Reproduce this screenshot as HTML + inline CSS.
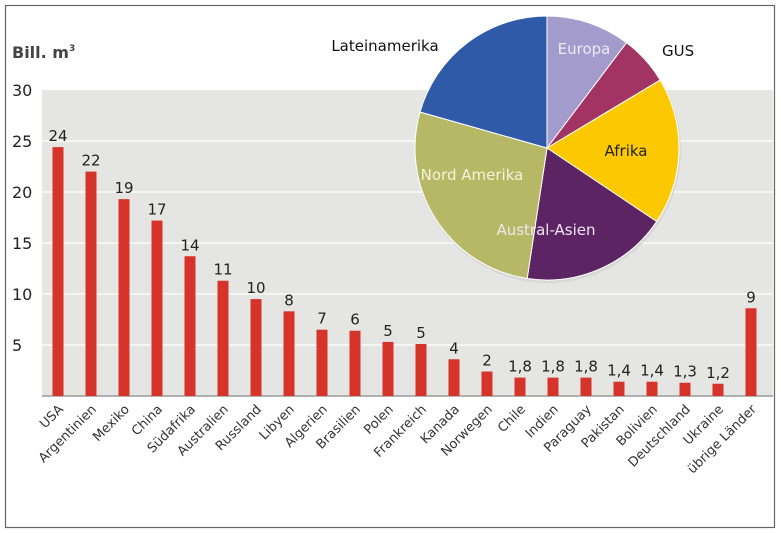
<!DOCTYPE html>
<html><head><meta charset="utf-8"><style>
body{margin:0;background:#fff;}
svg{display:block;font-family:"DejaVu Sans","Liberation Sans",sans-serif;}
</style></head><body>
<svg id="c" width="781" height="533">
<rect x="5.5" y="5.5" width="769" height="522" fill="#fff" stroke="#666" stroke-width="1.2"/>
<rect x="42" y="90" width="731" height="306" fill="#e5e5e3"/>
<g id="grid"></g><g id="bars"></g><g id="labels"></g>
<text x="12" y="58" font-size="16" font-weight="bold" fill="#444">Bill. m<tspan font-size="9" dy="-7">3</tspan></text>
<circle cx="548" cy="150" r="133" fill="#cfcfcf" opacity="0.6"/>
<g id="pie"></g>
</svg>
<script>
const categories=["USA","Argentinien","Mexiko","China","Südafrika","Australien","Russland","Libyen","Algerien","Brasilien","Polen","Frankreich","Kanada","Norwegen","Chile","Indien","Paraguay","Pakistan","Bolivien","Deutschland","Ukraine","übrige Länder"];
const values=[24.4,22,19.3,17.2,13.7,11.3,9.5,8.3,6.5,6.4,5.3,5.1,3.6,2.4,1.8,1.8,1.8,1.4,1.4,1.3,1.2,8.6];
const valueLabels=["24","22","19","17","14","11","10","8","7","6","5","5","4","2","1,8","1,8","1,8","1,4","1,4","1,3","1,2","9"];
const yTicks=[5,10,15,20,25,30];
const pieNames=["Europa","GUS","Afrika","Austral-Asien","Nord Amerika","Lateinamerika"];
const pieShares=[10.3,6.1,18,18,27,20.6];
const NS="http://www.w3.org/2000/svg";
function mk(t,a,p){const e=document.createElementNS(NS,t);for(const k in a)e.setAttribute(k,a[k]);p.appendChild(e);return e;}
const y0=396,sc=10.2;
const y=v=>y0-v*sc;
const x0=58;
const xs=i=>x0+i*((751-58)/(categories.length-1));
const G=document.getElementById('grid'),B=document.getElementById('bars'),L=document.getElementById('labels');
yTicks.forEach(t=>{
 if(t<30){const l=mk('line',{x1:42,x2:773,y1:y(t),y2:y(t),stroke:'#fff','stroke-width':1.2},G);
 
 }
 const tx=mk('text',{x:12,y:y(t)+6,'font-size':16,fill:'#222'},G);tx.textContent=t;
 
 
});
const bl=mk('line',{x1:42,x2:773,y1:y0,y2:y0,stroke:'#999','stroke-width':1.5},G);


categories.forEach((c,i)=>{
 const cx=xs(i);
 const r=mk('rect',{x:cx-5.5,y:y(values[i]),width:11,height:values[i]*sc,fill:'#d6332a'},B);
 
 
 const v=mk('text',{x:cx,y:y(values[i])-6,'font-size':15,fill:'#222','text-anchor':'middle'},L);v.textContent=valueLabels[i];
 
 
 const t=mk('text',{x:cx+6,y:410,'font-size':13,fill:'#333','text-anchor':'end',transform:`rotate(-45 ${cx+6} 410)`},L);t.textContent=c;
 
 
});
const pieColors=["#a39bcc","#a13463","#fcc800","#5d2464","#b7b866","#2e5aa7"];
const P=document.getElementById('pie'),pcx=547,pcy=148,pr=132;
const tot=pieShares.reduce((a,b)=>a+b,0);
let a0=0;
pieShares.forEach((s,i)=>{
 const a1=a0+s/tot*2*Math.PI;
 const p=(a)=>[pcx+pr*Math.sin(a),pcy-pr*Math.cos(a)];
 const [sx,sy]=p(a0),[ex,ey]=p(a1);
 const pa=mk('path',{d:`M${pcx},${pcy}L${sx},${sy}A${pr},${pr} 0 ${a1-a0>Math.PI?1:0} 1 ${ex},${ey}Z`,fill:pieColors[i],stroke:'#fff','stroke-width':1},P);
 
 
 a0=a1;
});
const lab=[[584,54,"Europa","#eeeaf8","middle"],[662,56,"GUS","#111","start"],[626,156,"Afrika","#222","middle"],[546,235,"Austral-Asien","#f0e6f0","middle"],[472,180,"Nord Amerika","#f4f4dc","middle"],[385,51,"Lateinamerika","#111","middle"]];
lab.forEach(l=>{const t=mk('text',{x:l[0],y:l[1],'font-size':15,fill:l[3],'text-anchor':l[4]},P);t.textContent=l[2];
 
 });
</script>
</body></html>
